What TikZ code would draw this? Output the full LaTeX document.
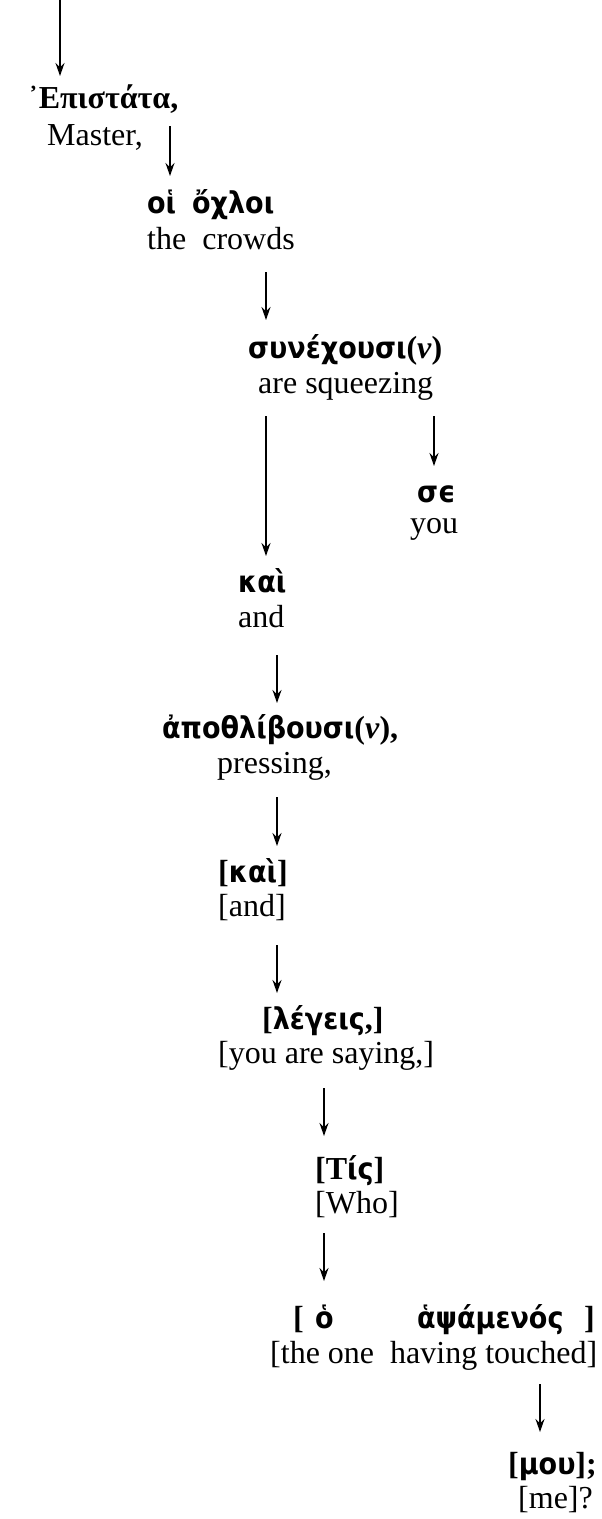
\documentclass[tikz,border=0pt]{standalone}
\usepackage{fontspec}
\setmainfont{Liberation Serif}
\newfontfamily\gkfont{DejaVu Sans Condensed}
\usetikzlibrary{arrows.meta}
\newcommand{\grk}[1]{{\gkfont\bfseries #1}}
\newcommand{\srb}[1]{{\fontsize{32}{38}\selectfont\bfseries #1}}
\newcommand{\nuit}{\srb{(\textit{ν})}}
\begin{document}
\begin{tikzpicture}[x=1pt,y=-1pt,
  en/.style={anchor=base west, inner sep=0pt, font=\fontsize{32}{38}\selectfont},
  gr/.style={anchor=base west, inner sep=0pt, font=\fontsize{30}{36}\selectfont},
  arr/.style={-{Stealth[length=13pt,width=9pt]}, line width=1.4pt}]
\useasboundingbox (0,0) rectangle (602,1519);
% nodes
\node[gr] (g1) at (28,108) {\srb{᾿Επιστάτα,}};
\node[en] (e1) at (47,145) {Master,};
\node[gr] (g2a) at (147,213) {\grk{οἱ}};
\node[gr] (g2b) at (192,213) {\grk{ὄχλοι}};
\node[en] (e2) at (147,249) {the\ \ crowds};
\node[gr] (g3) at (248,358) {\grk{συνέχουσι}\nuit};
\node[en] (e3) at (258,393) {are squeezing};
\node[gr] (g4) at (417,502) {\grk{σϵ}};
\node[en] (e4) at (410,533) {you};
\node[gr] (g5) at (238,592) {\grk{καὶ}};
\node[en] (e5) at (238,627) {and};
\node[gr] (g6) at (162,738) {\grk{ἀποθλίβουσι}\nuit\srb{,}};
\node[en] (e6) at (217,773) {pressing,};
\node[gr] (g7) at (218,882) {\srb{[}\grk{καὶ}\srb{]}};
\node[en] (e7) at (218,916) {[and]};
\node[gr] (g8) at (262,1029) {\srb{[}\grk{λέγεις}\srb{,]}};
\node[en] (e8) at (218,1063) {[you are saying,]};
\node[gr] (g9) at (315,1179) {\srb{[Τ}\grk{ίς}\srb{]}};
\node[en] (e9) at (315,1213) {[Who]};
\node[gr] (g10a) at (293,1328) {\srb{[}};
\node[gr] (g10b) at (315,1328) {\grk{ὁ}};
\node[gr] (g10c) at (417,1328) {\grk{ἁψάμενός}};
\node[gr] (g10d) at (584,1328) {\srb{]}};
\node[en] (e10) at (270,1363) {[the one\ \ having touched]};
\node[gr] (g11) at (508,1474) {\srb{[}\grk{μου}\srb{];}};
\node[en] (e11) at (518,1508) {[me]?};
% arrow coordinates
\coordinate (a1s) at (60,0);    \coordinate (a1e) at (60,76);
\coordinate (a2s) at (170,126); \coordinate (a2e) at (170,176);
\coordinate (a3s) at (266,272); \coordinate (a3e) at (266,320);
\coordinate (a4s) at (266,416); \coordinate (a4e) at (266,556);
\coordinate (a5s) at (434,416); \coordinate (a5e) at (434,466);
\coordinate (a6s) at (277,655); \coordinate (a6e) at (277,703);
\coordinate (a7s) at (277,797); \coordinate (a7e) at (277,846);
\coordinate (a8s) at (277,945); \coordinate (a8e) at (277,993);
\coordinate (a9s) at (324,1088); \coordinate (a9e) at (324,1136);
\coordinate (a10s) at (324,1233); \coordinate (a10e) at (324,1281);
\coordinate (a11s) at (540,1384); \coordinate (a11e) at (540,1432);
\foreach \i in {1,...,11} \draw[arr] (a\i s) -- (a\i e);
\end{tikzpicture}
\end{document}
